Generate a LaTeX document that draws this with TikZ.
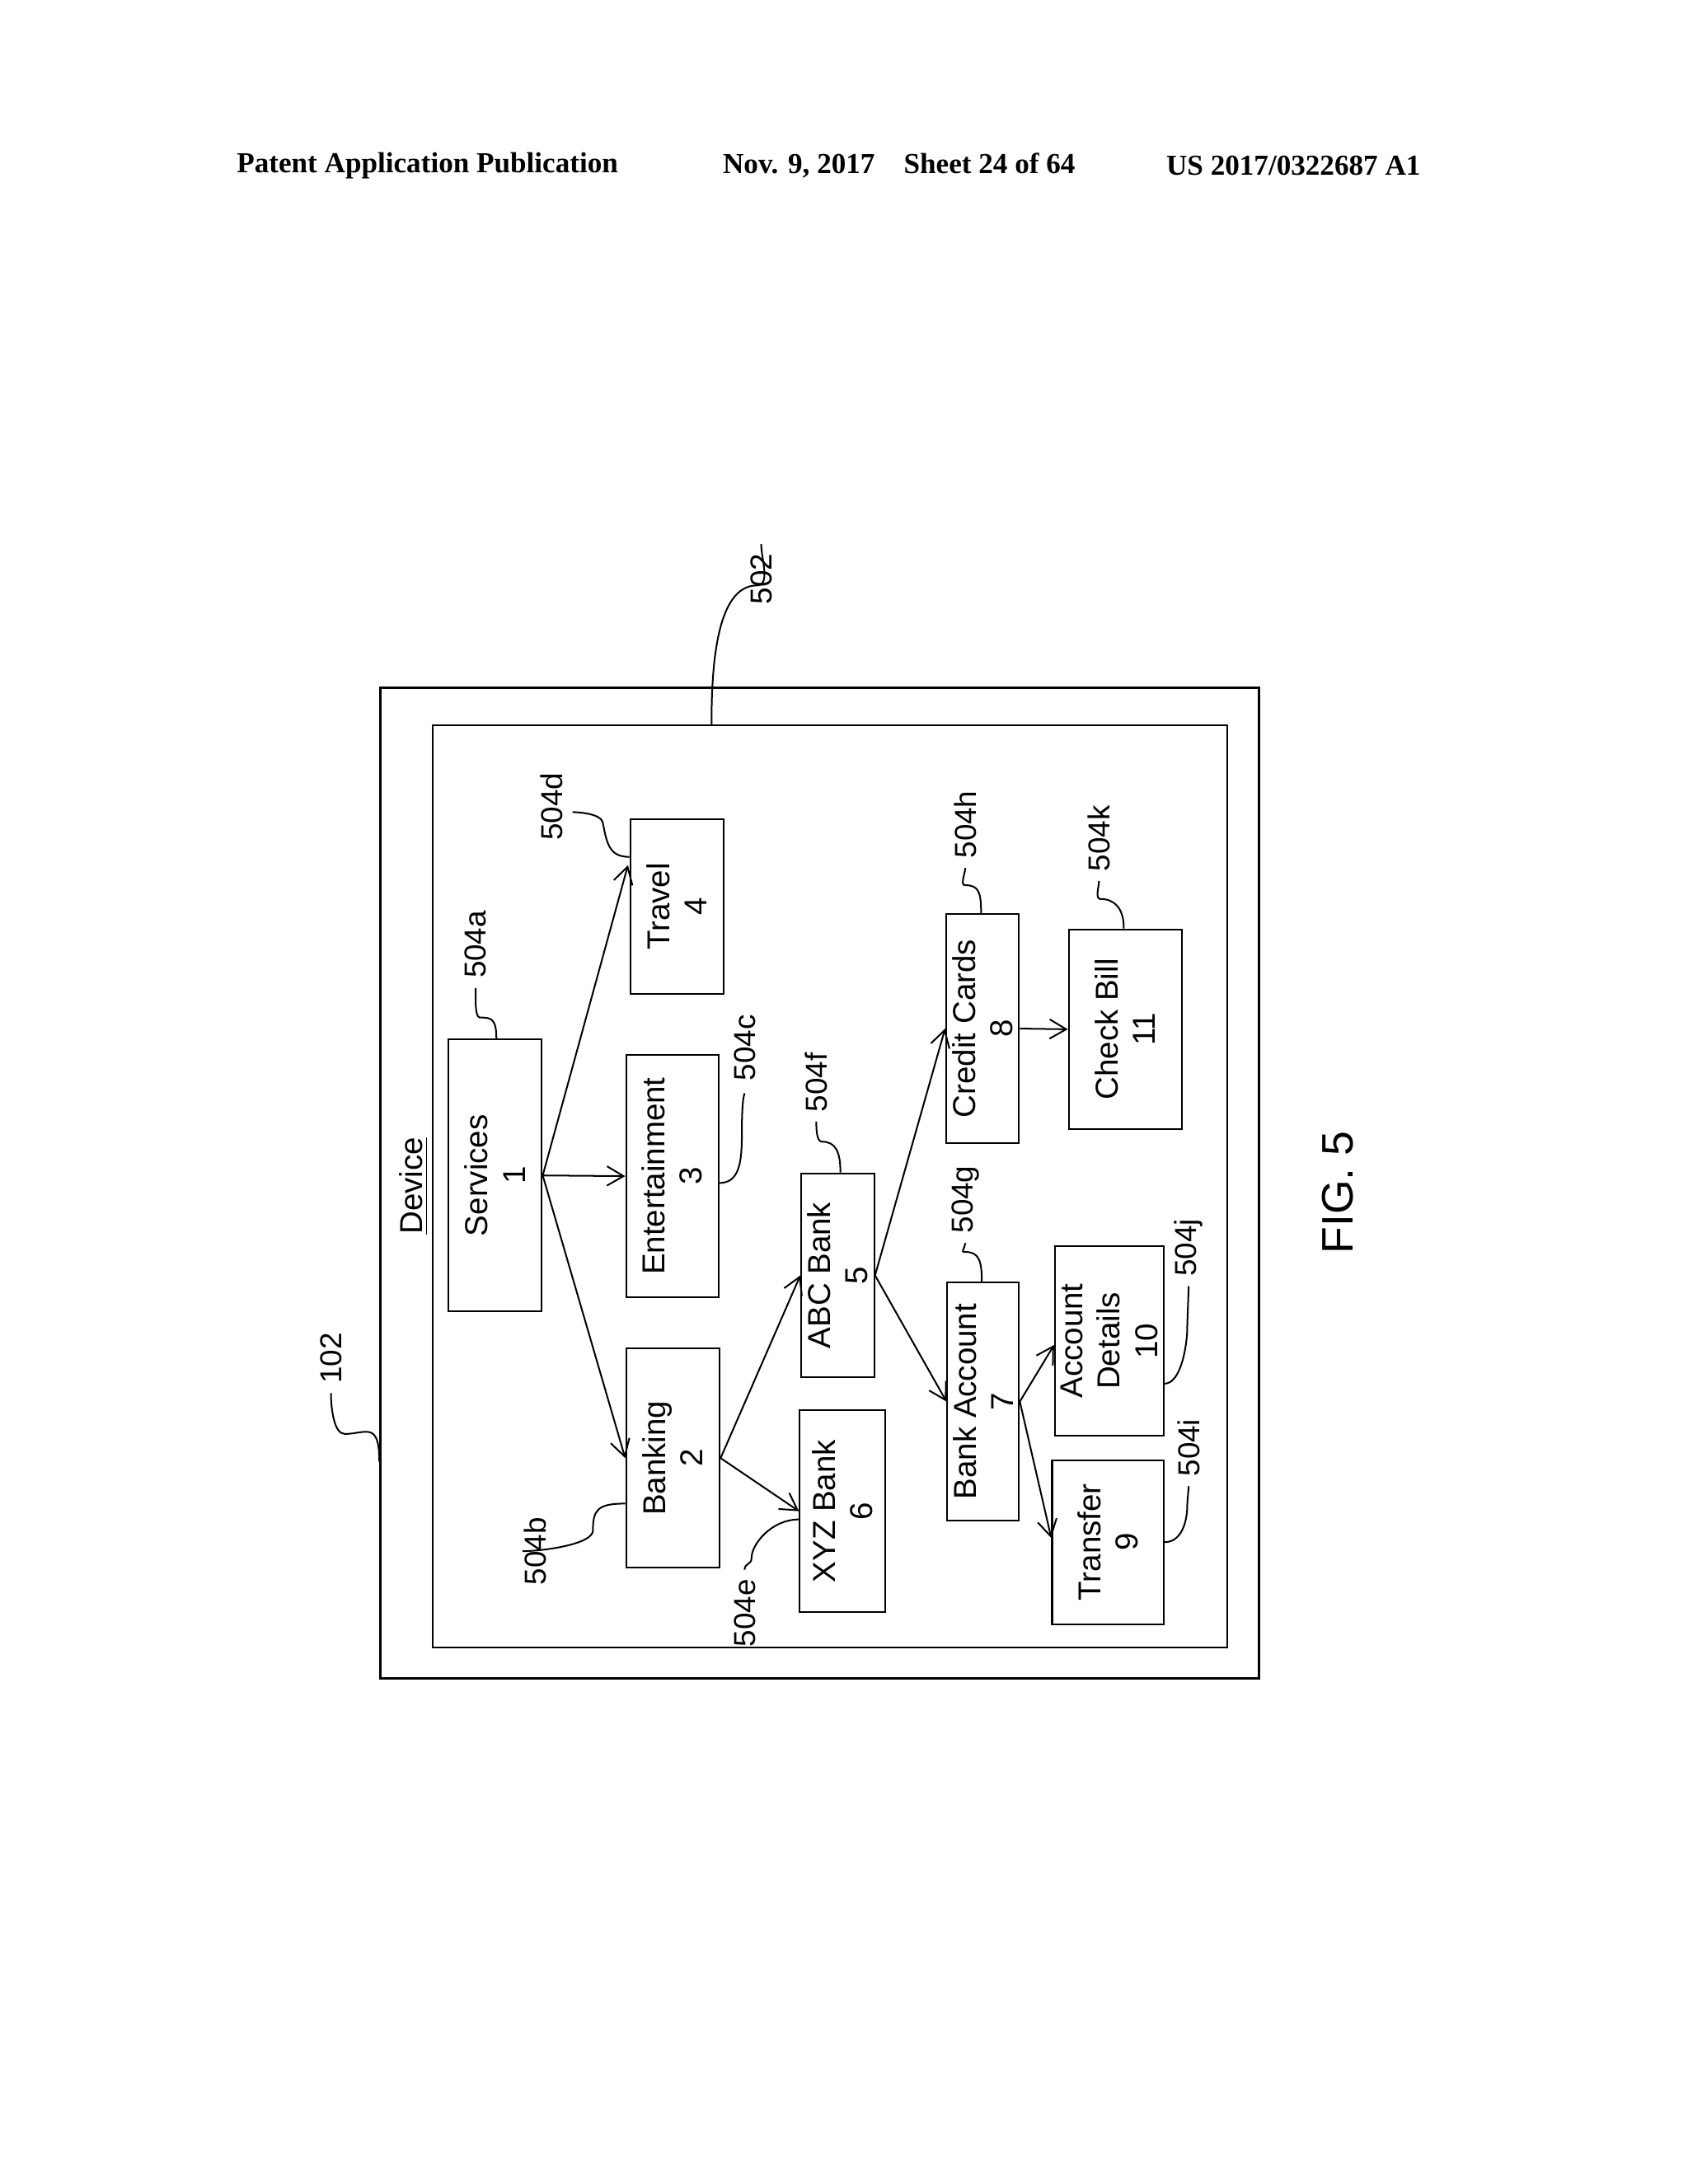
\documentclass[tikz,border=0pt]{standalone}
\usepackage{fontspec}
\setmainfont{Liberation Serif}
\setsansfont{Liberation Sans}
\usetikzlibrary{calc,arrows.meta}
\begin{document}
\begin{tikzpicture}[x=0.5pt,y=-0.5pt,
  box/.style={draw,line width=0.6pt,inner sep=0pt},
  lab/.style={rotate=90,font=\sffamily\fontsize{11.5}{13.5}\selectfont,align=center},
  ref/.style={rotate=90,font=\sffamily\fontsize{11}{13}\selectfont},
  arr/.style={->,line width=0.6pt,>={Straight Barb[length=6pt,width=7pt]}},
  lead/.style={line width=0.6pt}]
\useasboundingbox (0,0) rectangle (1224,1584);
\node[font=\bfseries\fontsize{10.5}{12}\selectfont] (h1) at (310,120) {Patent Application Publication};
\node[font=\bfseries\fontsize{10.5}{12}\selectfont] (h2) at (652,120) {Nov. 9, 2017\hspace{1em}Sheet 24 of 64};
\node[font=\bfseries\fontsize{10.5}{12}\selectfont] (h3) at (938,120) {US 2017/0322687 A1};
% boxes
\node[box,line width=0.9pt,minimum width=318.5pt,minimum height=359pt] (outer) at (594.5,858) {};
\node[box,minimum width=288pt,minimum height=334.5pt] (inner) at (602,860.5) {};
\node[lab] (dev) at (300,860) {\underline{Device}};
\node[box,minimum width=34pt,minimum height=98.5pt] (n1) at (359,852.5) {};
\node[lab] at (n1) {Services\\1};
\node[box,minimum width=33.5pt,minimum height=88pt] (n3) at (487.5,853) {};
\node[lab] at (n3) {Entertainment\\3};
\node[box,minimum width=34pt,minimum height=63.5pt] (n4) at (491,657.5) {};
\node[lab] at (n4) {Travel\\4};
\node[box,minimum width=34pt,minimum height=79.5pt] (n2) at (488,1057.5) {};
\node[lab] at (n2) {Banking\\2};
\node[box,minimum width=26.5pt,minimum height=74pt] (n5) at (607.5,925) {};
\node[lab] at (n5) {ABC Bank\\5};
\node[box,minimum width=31pt,minimum height=73pt] (n6) at (611,1096) {};
\node[lab] at (n6) {XYZ Bank\\6};
\node[box,minimum width=26.5pt,minimum height=83pt] (n8) at (712.5,746) {};
\node[lab] at (n8) {Credit Cards\\8};
\node[box,minimum width=41pt,minimum height=72.5pt] (n11) at (816,746.5) {};
\node[lab] at (n11) {Check Bill\\11};
\node[box,minimum width=26pt,minimum height=86.5pt] (n7) at (713,1016.5) {};
\node[lab] at (n7) {Bank Account\\7};
\node[box,minimum width=39.5pt,minimum height=68.5pt] (n10) at (804.5,972.5) {};
\node[lab] at (n10) {Account\\Details\\10};
\node[box,minimum width=40.5pt,minimum height=59.5pt] (n9) at (803.5,1118.5) {};
\node[lab] at (n9) {Transfer\\9};
% arrows
\draw[arr] (n1.east) -- ($(n4.west)+(-1,-30)$);
\draw[arr] (n1.east) -- (n3.west);
\draw[arr] (n1.east) -- (n2.west);
\draw[arr] (n2.east) -- (n5.west);
\draw[arr] (n2.east) -- (n6.west);
\draw[arr] (n5.east) -- (n8.west);
\draw[arr] (n5.east) -- (n7.west);
\draw[arr] (n8.east) -- (n11.west);
\draw[arr] (n7.east) -- ($(n10.west)+(0,3)$);
\draw[arr] (n7.east) -- ($(n9.west)+(0,-3)$);
% reference labels
\node[ref] (r502) at (552,420) {502};
\draw[lead] ($(inner.north)+(-86,0)$) .. controls +(0,-40) and +(-30,0) .. ($(r502.east)+(-3,30)$) .. controls +(10,0) and +(0,10) .. (r502.east);
\node[ref] (r102) at (240,985) {102};
\draw[lead] ($(outer.west)+(0,202)$) .. controls +(0,-30) and +(15,0) .. (250,1040) .. controls +(-8,0) and +(0,10) .. (r102.west);
\node[ref] (ra) at (345,685) {504a};
\draw[lead] ($(n1.north)+(1,0)$) .. controls +(0,-15) and +(8,0) .. (348,738) .. controls +(-4,0) and +(0,4) .. (ra.west);
\node[ref] (rd) at (400,585) {504d};
\draw[lead] ($(n4.west)+(0,-36)$) .. controls +(-15,0) and +(3,15) .. (437,596) .. controls +(-2,-6) and +(4,0) .. ($(rd.south)+(0,4)$);
\node[ref] (rc) at (540,760) {504c};
\draw[lead] ($(n3.east)+(0,5)$) .. controls +(15,0) and +(0,20) .. (538,822) .. controls +(0,-5) and +(-2,5) .. ($(rc.west)+(0,2)$);
\node[ref] (rb) at (388,1125) {504b};
\draw[lead] ($(n2.west)+(0,33)$) .. controls +(-20,0) and +(0,-15) .. (430,1110) .. controls +(0,10) and +(15,0) .. ($(rb.north)+(6,0)$);
\node[ref] (re) at (540,1170) {504e};
\draw[lead] ($(n6.west)+(0,6)$) .. controls +(-20,0) and +(0,-10) .. (545,1130) .. controls +(0,5) and +(0,-5) .. (re.east);
\node[ref] (rf) at (592,785) {504f};
\draw[lead] ($(n5.north)+(2,0)$) .. controls +(0,-15) and +(10,0) .. (596,828) .. controls +(-4,0) and +(0,4) .. (rf.west);
\node[ref] (rg) at (700,870) {504g};
\draw[lead] ($(n7.north)+(-1,0)$) .. controls +(0,-15) and +(10,0) .. (700,908) .. controls +(-4,0) and +(0,4) .. (rg.west);
\node[ref] (rh) at (700,598) {504h};
\draw[lead] ($(n8.north)+(-1,0)$) .. controls +(0,-15) and +(10,0) .. (700,642) .. controls +(-4,0) and +(0,4) .. (rh.west);
\node[ref] (rk) at (797,608) {504k};
\draw[lead] ($(n11.north)+(-1,0)$) .. controls +(0,-15) and +(10,0) .. (798,652) .. controls +(-4,0) and +(0,4) .. (rk.west);
\node[ref] (rj) at (862,905) {504j};
\draw[lead] ($(n10.east)+(0,31)$) .. controls +(12,0) and +(0,12) .. (861,963) .. controls +(0,-4) and +(0,3) .. (rj.west);
\node[ref] (ri) at (862,1050) {504i};
\draw[lead] ($(n9.east)+(0,0)$) .. controls +(12,0) and +(0,12) .. (861,1092) .. controls +(0,-4) and +(0,3) .. (ri.west);
\node[rotate=90,font=\sffamily\fontsize{16}{18}\selectfont] (fig) at (970,865) {FIG. 5};
\end{tikzpicture}
\end{document}
